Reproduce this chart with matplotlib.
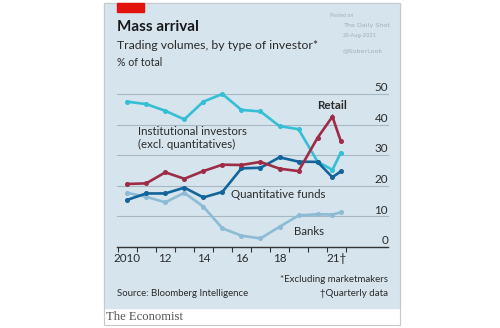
import matplotlib
matplotlib.use("Agg")
import matplotlib.pyplot as plt
from matplotlib.patches import Rectangle

plt.rcParams['font.family'] = ['Lato', 'DejaVu Sans']

# annual points sit mid-year, the two 2021 points are quarterly
years = [2010.5, 2011.5, 2012.5, 2013.5, 2014.5, 2015.5, 2016.5, 2017.5,
         2018.5, 2019.5, 2020.5, 2021.28, 2021.72]
institutional = [47.5, 46.7, 44.5, 41.7, 47.5, 50.0, 44.8, 44.3, 39.5, 38.5, 27.9, 25.2, 30.8]
retail = [20.6, 20.8, 24.4, 22.3, 24.8, 26.9, 26.8, 27.8, 25.6, 24.8, 35.7, 42.6, 34.6]
quant = [15.4, 17.5, 17.5, 19.4, 16.2, 18.0, 25.7, 25.9, 29.3, 27.9, 27.8, 22.8, 24.7]
banks = [17.7, 16.4, 14.6, 17.7, 13.2, 6.1, 3.7, 2.8, 6.6, 10.3, 10.7, 10.6, 11.3]

y_ticks = [0, 10, 20, 30, 40, 50]
x_label_pos = [2010.5, 2012.5, 2014.5, 2016.5, 2018.5, 2021.5]
x_labels = ["2010", "12", "14", "16", "18", "21\u2020"]

W, H = 500, 328
fig = plt.figure(figsize=(W / 100, H / 100), dpi=100, facecolor="white")

def fx(px):
    return px / W

def fy(py):
    return 1 - py / H

bg = "#d5e4ed"
txt = "#2b2b2b"

# panel background, white footer strip and thin frame
fig.patches.append(Rectangle((fx(104), fy(308)), fx(296), 305 / H,
                             transform=fig.transFigure, color=bg, zorder=-2))
fig.patches.append(Rectangle((fx(104), fy(325)), fx(296), 322 / H,
                             transform=fig.transFigure, fill=False,
                             edgecolor="#c8c8c8", lw=0.8, zorder=-1))
fig.patches.append(Rectangle((fx(117), fy(12)), fx(27), 9 / H,
                             transform=fig.transFigure, color="#e3120b", zorder=-1))

fig.text(fx(117), fy(30.7), "Mass arrival", fontsize=11, fontweight="bold", color="#1a1a1a")
fig.text(fx(117), fy(49.3), "Trading volumes, by type of investor*", fontsize=8.8, color=txt)
fig.text(fx(117), fy(65.7), "% of total", fontsize=7.6, color=txt)

wm = "#a3afba"
fig.text(fx(330), fy(17), "Posted on", fontsize=3.8, color=wm)
fig.text(fx(343), fy(27), "The Daily Shot", fontsize=4.6, color=wm, family="DejaVu Sans")
fig.text(fx(343), fy(37), "20-Aug-2021", fontsize=3.8, color=wm, family="DejaVu Sans")
fig.text(fx(343), fy(52), "@SoberLook", fontsize=4.6, color=wm, family="DejaVu Sans")

ax = fig.add_axes([fx(116.7), fy(247), (388 - 116.7) / W, (247 - 94) / H])
ax.set_zorder(2)
ax.set_facecolor("none")
ax.set_xlim(2009.947, 2024.2)
ax.set_ylim(0, 50)
for s in ["top", "right", "left"]:
    ax.spines[s].set_visible(False)
ax.spines["bottom"].set_color("#333333")
ax.spines["bottom"].set_linewidth(1.0)

for v in y_ticks[1:]:
    ax.axhline(v, color="#a7b8c4", lw=0.8, zorder=1, clip_on=False)
for v in y_ticks:
    ax.annotate(str(v), xy=(1, v), xycoords=("axes fraction", "data"),
                xytext=(0, 2), textcoords="offset points", ha="right",
                va="baseline", fontsize=8.4, color=txt, annotation_clip=False)
ax.set_yticks([])

ax.set_xticks(range(2010, 2023))
ax.set_xticklabels([])
ax.tick_params(axis="x", which="major", length=3.5, width=0.8, color="#333333", direction="out")
ax.set_xticks(x_label_pos, minor=True)
ax.set_xticklabels(x_labels, minor=True, fontsize=8.4, color=txt)
ax.tick_params(axis="x", which="minor", length=0, pad=4)

series = [
    (banks, "#8dbbd3"),
    (institutional, "#35bfd5"),
    (quant, "#13649a"),
    (retail, "#9e2c46"),
]
for vals, col in series:
    ax.plot(years, vals, color=col, lw=1.9, marker="o", ms=2.6,
            solid_joinstyle="miter", clip_on=False, zorder=3)

ax.text(2021.25, 46.4, "Retail", fontsize=8.4, fontweight="bold", color=txt,
        ha="center", va="center")
ax.text(2011.07, 37.7, "Institutional investors", fontsize=8.3, color=txt, va="center")
ax.text(2011.07, 33.6, "(excl. quantitatives)", fontsize=8.3, color=txt, va="center")
ax.text(2015.94, 17.0, "Quantitative funds", fontsize=8.3, color=txt, va="center")
ax.text(2019.26, 5.2, "Banks", fontsize=8.3, color=txt, va="center")

fig.text(fx(388), fy(280), "*Excluding marketmakers", fontsize=7.0, color=txt,
         ha="right", va="center")
fig.text(fx(388), fy(293), "\u2020Quarterly data", fontsize=7.0, color=txt,
         ha="right", va="center")
fig.text(fx(117), fy(293), "Source: Bloomberg Intelligence", fontsize=6.9, color=txt,
         va="center")
fig.text(fx(106), fy(317.5), "The Economist", fontsize=9.1, color="#555555",
         family="Liberation Serif", va="center")

fig.savefig("out.png", dpi=100, facecolor="white")
